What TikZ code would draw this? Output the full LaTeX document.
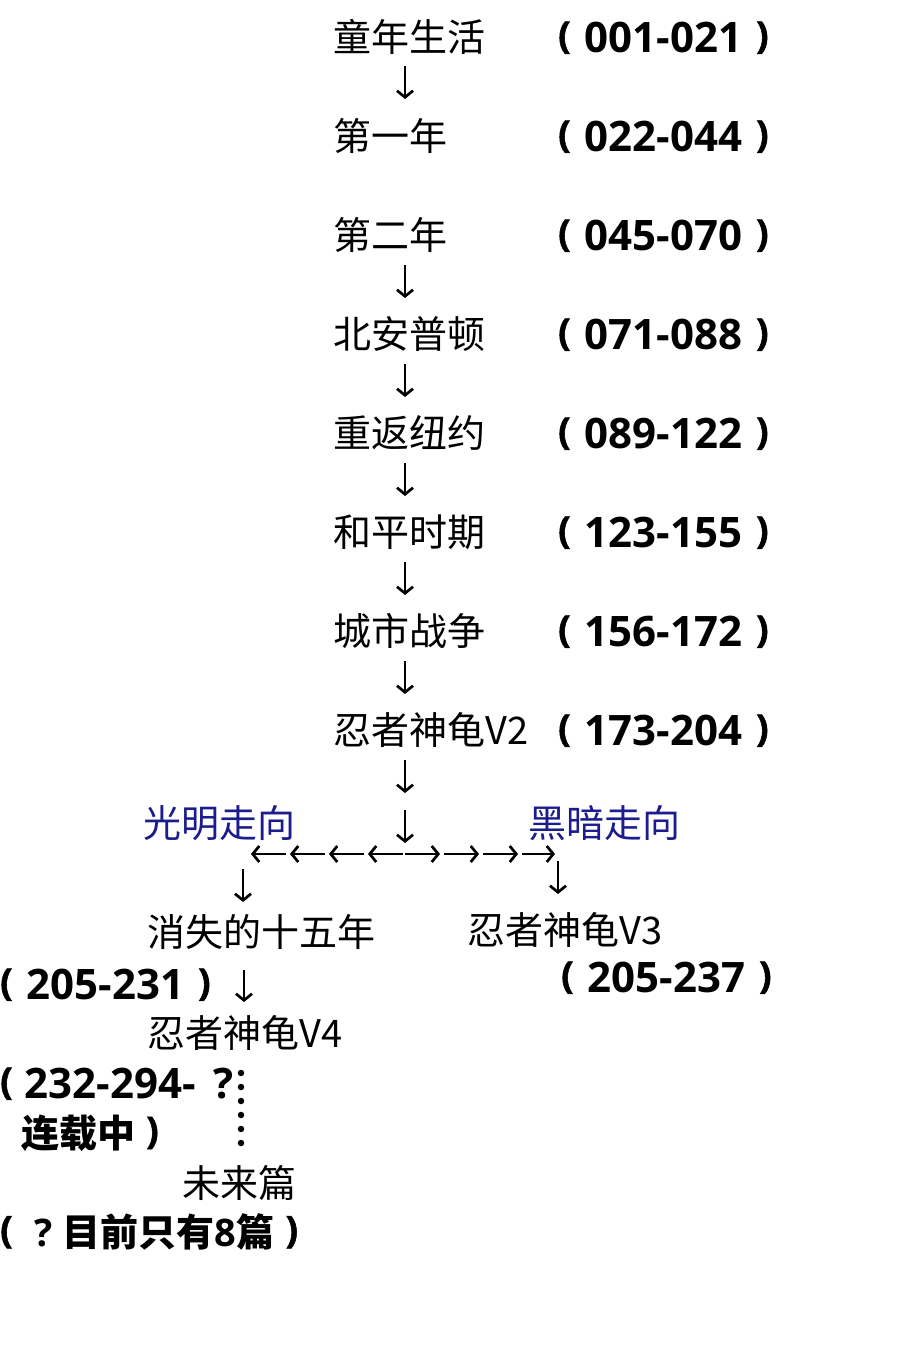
\documentclass[tikz,border=0pt]{standalone}
\usepackage{fontspec}
\newfontfamily\cjk{Noto Sans CJK SC}
\newfontfamily\numf{Open Sans}
\newfontfamily\parf{Open Sans}[BoldFeatures={FakeBold=1.5}]
\usetikzlibrary{arrows.meta}
\definecolor{navy}{RGB}{28,28,140}
\newcommand{\lp}{\raisebox{4pt}{\parf\bfseries\fontsize{37}{37}\selectfont(}}
\newcommand{\rp}{\raisebox{4pt}{\parf\bfseries\fontsize{37}{37}\selectfont)}}
\newcommand{\pr}[1]{\lp\hspace{14pt}#1\hspace{14pt}\rp}
\newcommand{\nb}[1]{{\numf\bfseries #1}}
\tikzset{
 lbl/.style={font=\cjk\fontsize{38}{40}\selectfont, inner sep=0pt, anchor=west},
 num/.style={font=\numf\bfseries\fontsize{42}{44}\selectfont, inner sep=0pt, anchor=base west},
 bnum/.style={font=\cjk\bfseries\fontsize{38}{40}\selectfont, inner sep=0pt, anchor=west},
 dirlbl/.style={lbl, text=navy},
 arr/.style={line width=2.7pt, -{Straight Barb[length=6.5pt,width=16pt]}},
 dotc/.style={fill=black, circle, inner sep=0pt, minimum size=6.5pt}
}
\begin{document}
\begin{tikzpicture}[x=1pt,y=-1pt]
\useasboundingbox (0,0) rectangle (900,1350);
% main column
\node[lbl] (r1) at (333,37) {童年生活};
\node[num] (n1) at (558,52) {\pr{001-021}};
\node[lbl] (r2) at (333,136) {第一年};
\node[num] (n2) at (558,151) {\pr{022-044}};
\node[lbl] (r3) at (333,235) {第二年};
\node[num] (n3) at (558,250) {\pr{045-070}};
\node[lbl] (r4) at (333,334) {北安普顿};
\node[num] (n4) at (558,349) {\pr{071-088}};
\node[lbl] (r5) at (333,433) {重返纽约};
\node[num] (n5) at (558,448) {\pr{089-122}};
\node[lbl] (r6) at (333,532) {和平时期};
\node[num] (n6) at (558,547) {\pr{123-155}};
\node[lbl] (r7) at (333,631) {城市战争};
\node[num] (n7) at (558,646) {\pr{156-172}};
\node[lbl] (r8) at (333,730) {忍者神龟V2};
\node[num] (n8) at (558,745) {\pr{173-204}};
% branches
\node[dirlbl] (light) at (143,823) {光明走向};
\node[dirlbl] (dark) at (528,823) {黑暗走向};
\node[lbl] (l1) at (147,932) {消失的十五年};
\node[num] (ln1) at (0,999) {\pr{205-231}};
\node[lbl] (l2) at (147,1033) {忍者神龟V4};
\node[num] (ln2) at (0,1098) {\lp\hspace{12pt}232-294-\hspace{18pt}?};
\node[bnum] (ln2b) at (21,1133) {连载中\hspace{11pt}\rp};
\node[lbl] (l3) at (182,1183) {未来篇};
\node[bnum] (ln3) at (0,1232) {\lp\hspace{22pt}\nb{?}\hspace{10pt}目前只有\nb{8}篇\hspace{11pt}\rp};
\node[lbl] (d1) at (467,930) {忍者神龟V3};
\node[num] (dn1) at (561,992) {\pr{205-237}};
% arrows
\foreach \i/\t in {1/66,2/265,3/364,4/463,5/562,6/661,7/760,8/810}{
  \coordinate (s\i) at (405,\t);
  \coordinate (e\i) at (405,\t+33);
  \draw[arr] (s\i) -- (e\i);
}
\foreach \a/\b in {286/251,325/290,364/329,403/368,405/440,444/479,483/518,522/555}{
  \coordinate (hs\a) at (\a,854);
  \coordinate (he\a) at (\b,854);
  \draw[arr] (hs\a) -- (he\a);
}
\coordinate (ls) at (243,869); \coordinate (le) at (243,902);
\draw[arr] (ls) -- (le);
\coordinate (rs) at (558,861); \coordinate (re) at (558,894);
\draw[arr] (rs) -- (re);
\coordinate (ms) at (244,970); \coordinate (me) at (244,1002);
\draw[arr] (ms) -- (me);
\foreach \k in {0,...,5}{
  \node[dotc] (dot\k) at (241,1073+14*\k) {};
}
\end{tikzpicture}
\end{document}
